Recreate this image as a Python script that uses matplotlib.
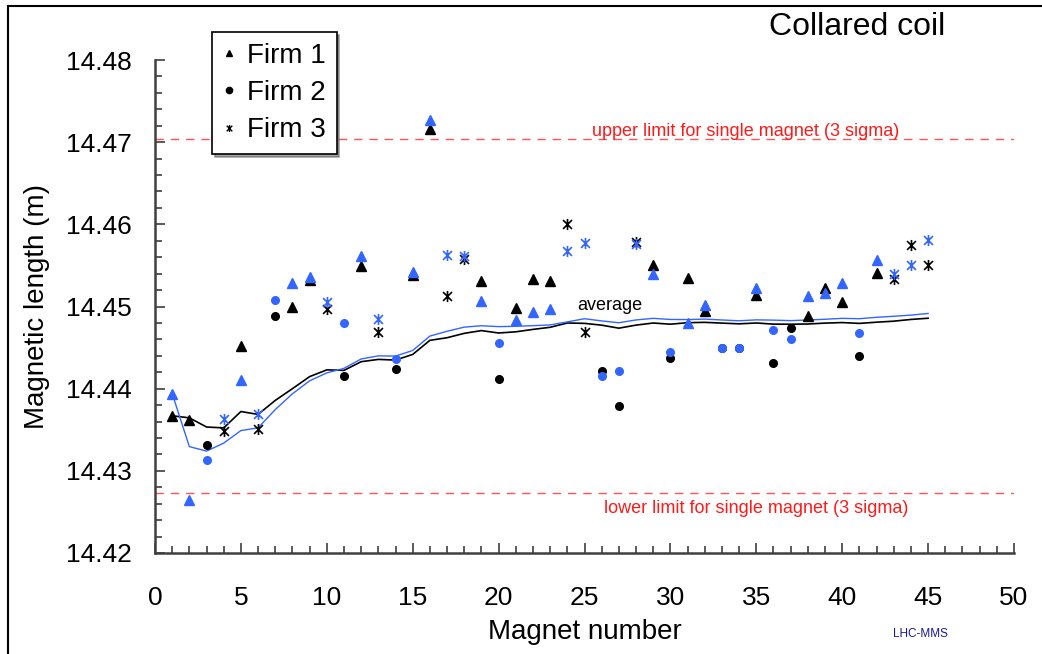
import numpy as np
import pandas as pd
import matplotlib
matplotlib.use('Agg')
import matplotlib.pyplot as plt
from matplotlib.path import Path
from matplotlib.patches import Rectangle
from matplotlib.lines import Line2D
from matplotlib.ticker import MultipleLocator, FormatStrFormatter

plt.rcParams['font.family'] = ['Liberation Sans', 'DejaVu Sans']

# magnet numbers per firm
firm1_mag = [1, 2, 5, 8, 9, 12, 15, 16, 19, 21, 22, 23, 29, 31, 32, 35, 38, 39, 40, 42]
firm2_mag = [3, 7, 11, 14, 20, 26, 27, 30, 33, 34, 36, 37, 41]
firm3_mag = [4, 6, 10, 13, 17, 18, 24, 25, 28, 43, 44, 45]

# magnetic length (m), black set
firm1_k = [14.4367, 14.4362, 14.4452, 14.4500, 14.4532, 14.4549, 14.4538, 14.4716,
           14.4531, 14.4498, 14.4534, 14.4531, 14.4551, 14.4535, 14.4494, 14.4514,
           14.4488, 14.4522, 14.4505, 14.4541]
firm2_k = [14.4331, 14.4488, 14.4416, 14.4424, 14.4412, 14.4422, 14.4379, 14.4437,
           14.4450, 14.4450, 14.4431, 14.4474, 14.4440]
firm3_k = [14.4349, 14.4351, 14.4497, 14.4469, 14.4513, 14.4558, 14.4600, 14.4469,
           14.4578, 14.4534, 14.4575, 14.4551]

# magnetic length (m), blue set
firm1_b = [14.4394, 14.4265, 14.4410, 14.4528, 14.4536, 14.4562, 14.4542, 14.4727,
           14.4507, 14.4484, 14.4493, 14.4497, 14.4540, 14.4480, 14.4502, 14.4522,
           14.4513, 14.4517, 14.4529, 14.4557]
firm2_b = [14.4313, 14.4508, 14.4480, 14.4436, 14.4455, 14.4416, 14.4422, 14.4445,
           14.4450, 14.4450, 14.4472, 14.4461, 14.4468]
firm3_b = [14.4363, 14.4369, 14.4506, 14.4485, 14.4563, 14.4561, 14.4567, 14.4577,
           14.4576, 14.4540, 14.4551, 14.4581]

upper_lim = 14.4704
lower_lim = 14.4273

BLUE = '#3366ff'
RED = '#ff1a1a'
RED_LINE = '#ff5555'

# asterisk marker: x with a vertical bar
star = Path([(-1, -1), (1, 1), (-1, 1), (1, -1), (0, -1.25), (0, 1.25)],
            [Path.MOVETO, Path.LINETO, Path.MOVETO, Path.LINETO, Path.MOVETO, Path.LINETO])


def running_average(mags, vals):
    s = pd.Series(np.concatenate(vals), index=np.concatenate(mags)).sort_index()
    return s.index.to_numpy(), s.expanding().mean().to_numpy()


fig = plt.figure(figsize=(10.42, 6.54), dpi=100, facecolor='white')
ax = fig.add_axes([155/1042, 101/654, 859/1042, 493/654])

mags = [firm1_mag, firm2_mag, firm3_mag]
for vals, col, lw in [([firm1_k, firm2_k, firm3_k], 'black', 1.2),
                      ([firm1_b, firm2_b, firm3_b], BLUE, 1.0)]:
    xa, ya = running_average(mags, vals)
    ax.plot(xa, ya, '-', color=col, lw=lw, zorder=2)

for vals, col in [([firm1_k, firm2_k, firm3_k], 'black'),
                  ([firm1_b, firm2_b, firm3_b], BLUE)]:
    ax.plot(firm1_mag, vals[0], '^', ms=7, color=col, mec=col, ls='none', zorder=3)
    ax.plot(firm2_mag, vals[1], 'o', ms=5.5, color=col, mec=col, ls='none', zorder=3)
    ax.plot(firm3_mag, vals[2], marker=star, ms=8, color=col, mew=1.2,
            ls='none', zorder=3)

ax.axhline(upper_lim, color=RED_LINE, ls=(0, (6, 5)), lw=1.0, zorder=1)
ax.axhline(lower_lim, color=RED_LINE, ls=(0, (6, 5)), lw=1.0, zorder=1)
ax.text(25.45, upper_lim - 0.0001, 'upper limit for single magnet (3 sigma)',
        color=RED, fontsize=13, va='bottom', ha='left')
ax.text(26.15, lower_lim - 0.0009, 'lower limit for single magnet (3 sigma)',
        color=RED, fontsize=13, va='top', ha='left')
ax.text(24.6, 14.4501, 'average', fontsize=13, va='center', ha='left')

ax.set_xlim(0, 50)
ax.set_ylim(14.42, 14.48)
ax.xaxis.set_major_locator(MultipleLocator(5))
ax.xaxis.set_minor_locator(MultipleLocator(1))
ax.yaxis.set_major_locator(MultipleLocator(0.01))
ax.yaxis.set_minor_locator(MultipleLocator(0.002))
ax.yaxis.set_major_formatter(FormatStrFormatter('%.2f'))

for side in ['top', 'right']:
    ax.spines[side].set_visible(False)
for side in ['left', 'bottom']:
    ax.spines[side].set_color('#404040')
    ax.spines[side].set_linewidth(1.8)

ax.tick_params(axis='both', which='both', direction='in', colors='#404040',
               labelcolor='black', labelsize=19, width=1.2)
ax.tick_params(axis='both', which='major', length=7)
ax.tick_params(axis='both', which='minor', length=5)
ax.tick_params(axis='x', pad=24)
ax.tick_params(axis='y', pad=17)

ax.set_xlabel('Magnet number', fontsize=20)
ax.xaxis.set_label_coords(0.5, -0.133)
ax.set_ylabel('Magnetic length (m)', fontsize=20)
ax.yaxis.set_label_coords(-0.122, 0.5)

fig.text(945/1042, 1 - 27/654, 'Collared coil', fontsize=23, ha='right', va='center')
fig.text(893/1042, 1 - 634/654, 'LHC-MMS', fontsize=8.5, color='#1a1a99',
         ha='left', va='center')

handles = [Line2D([], [], marker='^', color='black', ls='none', ms=5),
           Line2D([], [], marker='o', color='black', ls='none', ms=4.5),
           Line2D([], [], marker=star, color='black', ls='none', ms=5, mew=1)]
leg = ax.legend(handles, ['Firm 1', 'Firm 2', 'Firm 3'], fontsize=20,
                loc='upper left', bbox_to_anchor=(212/1042, 1 - 32/654),
                bbox_transform=fig.transFigure, fancybox=False, shadow=True,
                frameon=True, framealpha=1, edgecolor='black',
                handlelength=0.4, handletextpad=0.45, labelspacing=0.4,
                borderpad=0.4, borderaxespad=0)
leg.get_frame().set_linewidth(1.2)
leg.set_zorder(5)

# frame around the whole figure
fig.patches.append(Rectangle((8/1042, -0.1), 1.2, 1 - 6/654 + 0.1, fill=False,
                             edgecolor='black', lw=1.5, transform=fig.transFigure,
                             figure=fig))

fig.savefig('out.png', dpi=100, facecolor='white')
